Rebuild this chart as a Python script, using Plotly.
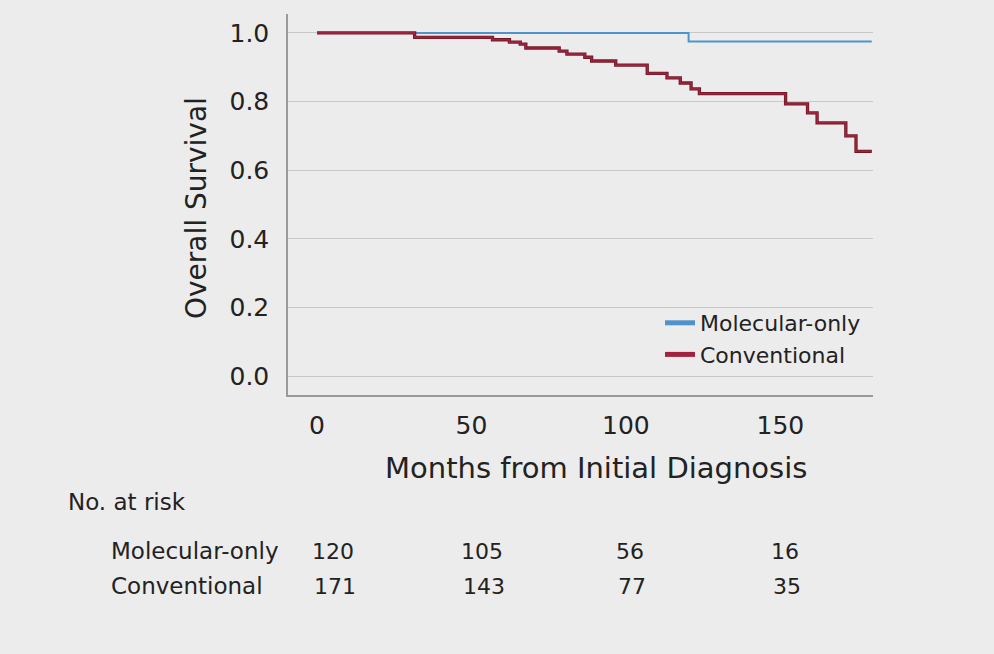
import plotly.graph_objects as go

# ---- data ----
conv_months = [0, 31.6, 56.8, 62.3, 65.8, 67.6, 78.4, 80.9, 86.7, 88.9, 96.7, 106.9,
               113.3, 117.6, 121.1, 123.8, 151.7, 158.8, 161.9, 171.2, 174.5, 179.6]
conv_surv = [1.0, 0.987, 0.980, 0.973, 0.967, 0.956, 0.947, 0.938, 0.929, 0.918, 0.906, 0.882,
             0.869, 0.854, 0.837, 0.823, 0.793, 0.767, 0.738, 0.700, 0.655, 0.655]
mol_months = [0, 120.3, 179.6]
mol_surv = [1.0, 0.975, 0.975]

risk_times = [0, 50, 100, 150]
risk_mol = [120, 105, 56, 16]
risk_conv = [171, 143, 77, 35]
group_names = ["Molecular-only", "Conventional"]

x_ticks = [0, 50, 100, 150]
y_ticks = [0.0, 0.2, 0.4, 0.6, 0.8, 1.0]

# ---- style ----
FONT = "DejaVu Sans"
BG = "#ececec"
BLUE = "#4f93cc"
RED = "#a3223f"
RED_DARK = "#6e1828"
TXT = "#222222"
W, H = 994, 654
L, R, T, B = 288, 873, 14, 395  # plot area in pixels


def px(xp):
    return (xp - L) / (R - L)


def py(yp):
    return (B - yp) / (B - T)


fig = go.Figure()
fig.add_trace(go.Scatter(x=mol_months, y=mol_surv, mode="lines", line=dict(color=BLUE, width=2, shape="hv"),
                         showlegend=False, hoverinfo="skip"))
fig.add_trace(go.Scatter(x=conv_months, y=conv_surv, mode="lines", line=dict(color=RED_DARK, width=3.3, shape="hv"),
                         showlegend=False, hoverinfo="skip"))
fig.add_trace(go.Scatter(x=conv_months, y=conv_surv, mode="lines", line=dict(color=RED, width=1.6, shape="hv"),
                         showlegend=False, hoverinfo="skip"))
# legend entries
fig.add_trace(go.Scatter(x=[None], y=[None], mode="lines", line=dict(color=BLUE, width=5), name=group_names[0]))
fig.add_trace(go.Scatter(x=[None], y=[None], mode="lines", line=dict(color=RED, width=5), name=group_names[1]))

fig.update_layout(
    width=W, height=H,
    paper_bgcolor=BG, plot_bgcolor=BG,
    margin=dict(l=L, r=W - R, t=T, b=H - B, autoexpand=False),
    font=dict(family=FONT, color=TXT),
    showlegend=True,
    legend=dict(x=px(866), xanchor="right", y=py(302), yanchor="top", bgcolor="rgba(0,0,0,0)",
                font=dict(size=22, family=FONT, color=TXT), tracegroupgap=0, itemwidth=30),
    xaxis=dict(range=[-9.4, 180], tickvals=x_ticks, ticktext=[str(v) for v in x_ticks],
               showgrid=False, zeroline=False, showline=True, linecolor="#9a9a9a", linewidth=1.5,
               ticks="outside", ticklen=7, tickcolor="rgba(0,0,0,0)",
               tickfont=dict(size=25, family=FONT, color=TXT)),
    yaxis=dict(range=[-0.055, 1.055], tickvals=y_ticks, ticktext=[f"{v:.1f}" for v in y_ticks],
               showgrid=True, gridcolor="#c8c8c8", gridwidth=1.2, zeroline=False,
               showline=True, linecolor="#9a9a9a", linewidth=1.5,
               ticks="outside", ticklen=12, tickcolor="rgba(0,0,0,0)",
               tickfont=dict(size=25, family=FONT, color=TXT)),
)

ann = []
ann.append(dict(text="Months from Initial Diagnosis", x=px(596), y=py(468), xref="paper", yref="paper",
                showarrow=False, font=dict(size=29, family=FONT, color=TXT), xanchor="center", yanchor="middle"))
ann.append(dict(text="Overall Survival", x=px(196), y=py(208), xref="paper", yref="paper", textangle=-90,
                showarrow=False, font=dict(size=28, family=FONT, color=TXT), xanchor="center", yanchor="middle"))
ann.append(dict(text="No. at risk", x=px(66), y=py(502), xref="paper", yref="paper",
                showarrow=False, font=dict(size=23, family=FONT, color=TXT), xanchor="left", yanchor="middle"))
row_y = [551, 586]
col_shift = [16, 11, 4, 5]
for name, vals, ry in zip(group_names, [risk_mol, risk_conv], row_y):
    ann.append(dict(text=name, x=px(109), y=py(ry), xref="paper", yref="paper",
                    showarrow=False, font=dict(size=23, family=FONT, color=TXT), xanchor="left", yanchor="middle"))
    for t, v, s in zip(risk_times, vals, col_shift):
        ann.append(dict(text=str(v), x=t, xshift=s + (2 if ry == 586 else 0), y=py(ry), xref="x", yref="paper",
                        showarrow=False, font=dict(size=22, family=FONT, color=TXT),
                        xanchor="center", yanchor="middle"))
fig.update_layout(annotations=ann)

fig.write_html("out.html", config={"displayModeBar": False},
               post_script="document.body.style.margin='0';document.body.style.background='" + BG + "';")
